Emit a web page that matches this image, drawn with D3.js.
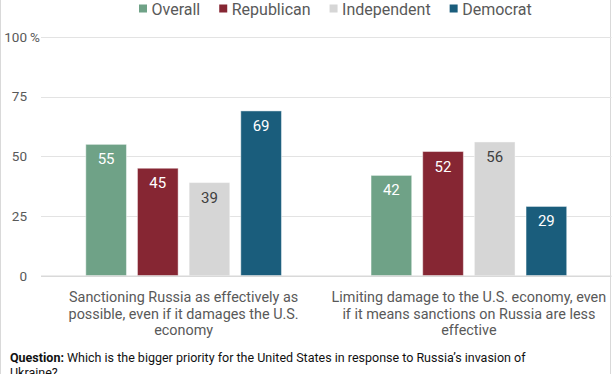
<!DOCTYPE html>
<html><head><meta charset="utf-8">
<script src="https://cdn.jsdelivr.net/npm/d3@7"></script>
<style>
html,body{margin:0;padding:0;background:#fff;overflow:hidden;}
svg{display:block;font-family:Roboto,sans-serif;}
</style></head>
<body><svg id="c" width="612" height="374"></svg>
<script>
const categories = [
  ["Sanctioning Russia as effectively as","possible, even if it damages the U.S.","economy"],
  ["Limiting damage to the U.S. economy, even","if it means sanctions on Russia are less","effective"]
];
const categoryKeys = ["sanction","limit"];
const seriesNames = ["Overall","Republican","Independent","Democrat"];
const seriesColors = ["#6fa287","#862633","#d6d6d6","#1a5d7c"];
const labelColors = ["#ffffff","#ffffff","#404040","#ffffff"];
const overall = [55,42];
const republican = [45,52];
const independent = [39,56];
const democrat = [69,29];
const yTicks = [0,25,50,75,100];
const questionBold = "Question:";
const questionText = " Which is the bigger priority for the United States in response to Russia\u2019s invasion of";
const questionText2 = "Ukraine?";

const values = [overall, republican, independent, democrat];
const svg = d3.select("#c");
const plotLeft = 41, plotRight = 611.5, plotTop = 36.9, plotBottom = 275.7;

const y = d3.scaleLinear().domain([0,100]).range([plotBottom, plotTop]);
const x0 = d3.scaleBand().domain(categoryKeys).range([plotLeft, plotRight]).padding(0);
const x1 = d3.scaleBand().domain(seriesNames).range([0, x0.bandwidth()])
  .paddingInner(0.213).paddingOuter(0.867);

// frame
svg.append("line").attr("x1",0.5).attr("x2",0.5).attr("y1",0).attr("y2",374).attr("stroke","#d9d9d9");
svg.append("line").attr("x1",610.5).attr("x2",610.5).attr("y1",0).attr("y2",374).attr("stroke","#d9d9d9");

// grid
const grid = svg.append("g");
grid.selectAll("line").data(yTicks.filter(d=>d>0)).join("line")
  .attr("x1",plotLeft).attr("x2",plotRight)
  .attr("y1",d=>Math.round(y(d))+0.5).attr("y2",d=>Math.round(y(d))+0.5)
  .attr("stroke","#e3e3e3").attr("stroke-width",1);

// y labels
svg.append("g").selectAll("text").data(yTicks).join("text")
  .attr("x",27).attr("y",d=>y(d)).attr("dy","0.36em")
  .attr("text-anchor","end").attr("font-size",13.5).attr("fill","#595959")
  .text(d=>d);
svg.append("text").attr("x",30).attr("y",y(100)).attr("dy","0.36em")
  .attr("font-size",13.5).attr("fill","#595959").text("%");

// bars
const groups = svg.append("g").selectAll("g").data(categoryKeys).join("g")
  .attr("transform",d=>`translate(${x0(d)},0)`);
groups.each(function(cat, ci){
  const g = d3.select(this);
  seriesNames.forEach((s, si)=>{
    const v = values[si][ci];
    g.append("rect")
      .attr("x", x1(s)).attr("width", x1.bandwidth())
      .attr("y", y(v)).attr("height", y(0)-y(v))
      .attr("fill", seriesColors[si])
      .attr("stroke","#ffffff").attr("stroke-opacity",0.45).attr("stroke-width",1);
    g.append("text")
      .attr("x", x1(s)+x1.bandwidth()/2).attr("y", y(v)+20)
      .attr("text-anchor","middle").attr("font-size",15)
      .attr("fill", labelColors[si]).text(v);
  });
});

// x axis line
svg.append("line").attr("x1",plotLeft).attr("x2",plotRight)
  .attr("y1",plotBottom+0.5).attr("y2",plotBottom+0.5)
  .attr("stroke","#d9d9d9").attr("stroke-width",1.5);

// category labels
categoryKeys.forEach((k, ci)=>{
  const t = svg.append("text").attr("text-anchor","middle")
    .attr("font-size",14.4).attr("fill","#595959");
  categories[ci].forEach((line, li)=>{
    t.append("tspan").attr("x", x0(k)+x0.bandwidth()/2)
      .attr("y", 302 + li*16.5).text(line);
  });
});

// legend
const legend = svg.append("g");
let lx = 139;
seriesNames.forEach((s, si)=>{
  legend.append("rect").attr("x",lx).attr("y",4.5).attr("width",8).attr("height",8)
    .attr("fill",seriesColors[si]);
  const t = legend.append("text").attr("x",lx+12.5).attr("y",14.5)
    .attr("font-size",16).attr("fill","#595959").text(s);
  lx += 12.5 + t.node().getComputedTextLength() + 19;
});

// question
const q = svg.append("text").attr("x",10).attr("y",362).attr("font-size",12.5).attr("fill","#111");
q.append("tspan").attr("font-weight","bold").text(questionBold);
q.append("tspan").text(questionText);
svg.append("text").attr("x",10).attr("y",377).attr("font-size",12.5).attr("fill","#111").text(questionText2);
</script></body></html>
